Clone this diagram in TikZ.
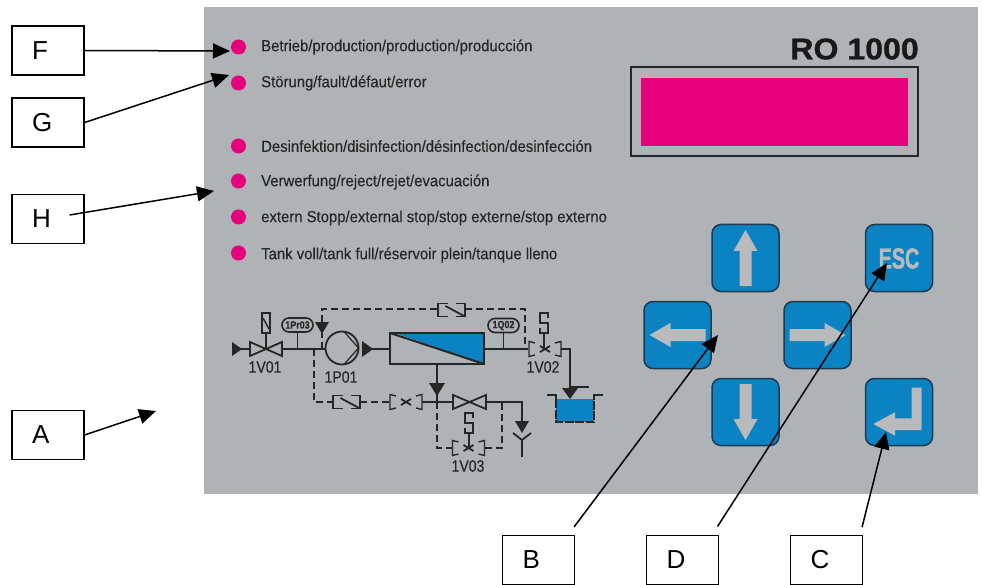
\documentclass[tikz,border=0pt]{standalone}
\usepackage{fontspec}
\setmainfont{Liberation Sans}
\newfontfamily\panelfont[FakeStretch=0.93,FakeBold=0.25]{Liberation Sans}
\newfontfamily\schemefont[FakeStretch=0.85,FakeBold=0.4]{Liberation Sans}
\newfontfamily\escfont[FakeStretch=0.68,BoldFeatures={FakeBold=1.2}]{Liberation Sans}
\newfontfamily\modelfont[FakeStretch=1.07,BoldFeatures={FakeBold=1.0}]{Liberation Sans}
\usetikzlibrary{arrows.meta}
\definecolor{paneltint}{HTML}{B0B3B5}
\definecolor{ledpink}{HTML}{E6007E}
\definecolor{keyblue}{HTML}{0B83C3}
\definecolor{keyedge}{HTML}{1C3A50}
\definecolor{glyphgrey}{HTML}{B8BABC}
\definecolor{inkdark}{HTML}{262626}
\tikzset{
  letterbox/.style={draw,line width=1.2pt,minimum width=72pt,minimum height=49pt,
    text width=32pt,inner xsep=20pt,inner ysep=0pt,align=left,font=\fontsize{26}{26}\selectfont},
  callout/.style={line width=1.5pt,-{Triangle[length=17pt,width=15pt]}},
  led/.style={circle,fill=ledpink,minimum size=15pt,inner sep=0pt},
  ledtext/.style={anchor=west,inner sep=0pt,text=inkdark,font=\panelfont\fontsize{16}{16}\selectfont},
  keybtn/.style={draw=keyedge,fill=keyblue,line width=1.5pt,rounded corners=9pt,minimum size=67pt,inner sep=0pt},
  glyph/.style={fill=glyphgrey},
  sline/.style={draw=inkdark,line width=1.8pt},
  dline/.style={draw=inkdark,line width=1.5pt,dash pattern=on 7pt off 4pt},
  schemetext/.style={inner sep=0pt,text=inkdark,font=\schemefont\fontsize{16.5}{16.5}\selectfont},
  pilltext/.style={inner sep=0pt,text=inkdark,font=\schemefont\bfseries\fontsize{10.5}{10.5}\selectfont},
  pill/.style={draw=inkdark,line width=1.6pt,rounded corners=7pt,minimum width=31pt,minimum height=14pt,inner sep=0pt},
  crossvalve/.pic={
    \draw[sline,line width=1.4pt] (-10,-6)--(-16,-7.5)--(-16,7.5)--(-10,6);
    \draw[sline,line width=1.4pt] (10,-6)--(16,-7.5)--(16,7.5)--(10,6);
    \draw[sline] (-5,-3)--(5,3);
    \draw[sline] (-5,3)--(5,-3);
  },
  checkvalve/.pic={
    \draw[sline,line width=1.4pt] (-4,-6.5)--(-13.5,-6.5)--(-13.5,6.5)--(-4,6.5);
    \draw[sline,line width=1.4pt] (4,-6.5)--(13.5,-6.5)--(13.5,6.5)--(4,6.5);
    \draw[sline] (-6,-4)--(13.5,6.5);
  },
  sactuator/.pic={
    \draw[sline,line width=1.4pt] (4,-5)--(4,-10)--(-4,-10)--(-4,0)--(4,0)--(4,10)--(-4,10)--(-4,5);
  },
}
\begin{document}
\begin{tikzpicture}[x=1pt,y=-1pt]
  \useasboundingbox (0,0) rectangle (982,585);
  \fill[paneltint] (204,7) rectangle (978,494);

  % status lamps
  \node[led] (ledF) at (238.5,47) {};
  \node[led] (ledG) at (238.5,83) {};
  \node[led] (ledD) at (238.5,146) {};
  \node[led] (ledV) at (238.5,181) {};
  \node[led] (ledS) at (238.5,217) {};
  \node[led] (ledT) at (238.5,253) {};
  \node[ledtext] (txtF) at (261,47) {Betrieb/production/production/producción};
  \node[ledtext] (txtG) at (261,83) {Störung/fault/défaut/error};
  \node[ledtext] (txtD) at (261,146) {Desinfektion/disinfection/désinfection/desinfección};
  \node[ledtext] (txtV) at (261,182) {Verwerfung/reject/rejet/evacuación};
  \node[ledtext] (txtS) at (261,218) {extern Stopp/external stop/stop externe/stop externo};
  \node[ledtext] (txtT) at (261,255) {Tank voll/tank full/réservoir plein/tanque lleno};

  % display
  \node[anchor=east,inner sep=0pt,text=black!90,font=\modelfont\bfseries\fontsize{30}{30}\selectfont] (model) at (919,49) {RO 1000};
  \draw[inkdark,line width=1.5pt] (631,67) rectangle (918,156);
  \fill[ledpink] (641,78) rectangle (908,146);

  % keypad
  \node[keybtn] (keyup) at (745.5,258) {};
  \node[keybtn] (keyesc) at (899,258) {};
  \node[keybtn] (keyleft) at (677.5,335) {};
  \node[keybtn] (keyright) at (817.5,335) {};
  \node[keybtn] (keydown) at (745.5,412) {};
  \node[keybtn] (keyenter) at (899,412) {};
  \fill[glyph,shift={(keyup.center)},rotate=90] (-28,-6)--(7,-6)--(7,-12)--(28,0)--(7,12)--(7,6)--(-28,6)--cycle;
  \fill[glyph,shift={(keyleft.center)},rotate=180] (-28,-6)--(7,-6)--(7,-12)--(28,0)--(7,12)--(7,6)--(-28,6)--cycle;
  \fill[glyph,shift={(keyright.center)}] (-28,-6)--(7,-6)--(7,-12)--(28,0)--(7,12)--(7,6)--(-28,6)--cycle;
  \fill[glyph,shift={(keydown.center)},rotate=-90] (-28,-6)--(7,-6)--(7,-12)--(28,0)--(7,12)--(7,6)--(-28,6)--cycle;
  \fill[glyph] (911.7,387.7)--(921.7,387.7)--(921.7,430)--(895,430)--(895,435.7)--(873.3,424)--(895,412.3)--(895,418.3)--(911.7,418.3)--cycle;
  \node[text=glyphgrey,inner sep=0pt,font=\escfont\bfseries\fontsize{29}{29}\selectfont] (esctext) at (899,258.5) {ESC};

  % flow scheme
  \fill[inkdark] (232,342)--(242,349)--(232,356)--cycle;
  \draw[sline] (240,349)--(250,349);
  \draw[sline] (250,342)--(282,356)--(282,342)--(250,356)--cycle;
  \draw[sline,line width=1.4pt] (262,313) rectangle (270,333);
  \draw[sline,line width=1.4pt] (263,318)--(269,329);
  \draw[sline] (266,333)--(266,349);
  \node[schemetext] (v01) at (265,367) {1V01};
  \draw[sline] (282,349)--(326,349);
  \node[pill] (pr03) at (297.5,325) {};
  \node[pilltext] (pr03text) at (297.5,325) {1Pr03};
  \draw[sline] (pr03)--(297.5,349);
  \draw[dline] (314,349)--(314,402)--(333,402);
  \draw[dline] (322,349)--(322,333);
  \fill[inkdark] (315,322)--(329,322)--(322,334)--cycle;
  \draw[dline] (322,322)--(322,309)--(438,309);
  \draw[dline] (465,309)--(525,309)--(525,349);
  \pic at (451.5,310) {checkvalve};
  \draw[sline] (342,348) circle (16.5);
  \draw[sline,line width=1.2pt] (344,331.5)--(358.5,348)--(344,364.5);
  \fill[inkdark] (362,341)--(373,349)--(362,357)--cycle;
  \draw[sline] (370,349)--(390,349);
  \fill[keyblue] (395,333)--(484,333)--(484,364)--cycle;
  \draw[sline,line width=2pt] (390,333) rectangle (484,364);
  \draw[sline,line width=2pt] (390,333)--(484,364);
  \node[schemetext] (p01) at (341,377) {1P01};
  \draw[sline] (484,349)--(528,349);
  \node[pill] (q02) at (503.5,325.5) {};
  \node[pilltext] (q02text) at (503.5,325.5) {1Q02};
  \draw[sline] (q02)--(503.5,349);
  \pic at (545,349) {crossvalve};
  \pic at (544,323) {sactuator};
  \draw[sline] (544,333)--(544,349);
  \node[schemetext] (v02) at (543,367) {1V02};
  \draw[sline] (561,349)--(570,349)--(570,388);
  \fill[inkdark] (562,388)--(578,388)--(570,399)--cycle;
  \draw[sline] (570,387)--(589,387);
  \fill[keyblue] (556,399) rectangle (594,422);
  \draw[sline,line width=1.4pt,dash pattern=on 9pt off 1.5pt] (556,399)--(556,422)--(594,422)--(594,399);
  \draw[sline] (547,395)--(557,395);
  \draw[sline] (593,395)--(603,395);
  \draw[sline] (556,395)--(556,400);
  \draw[sline] (594,395)--(594,400);
  % reject branch
  \draw[sline] (437,364)--(437,402);
  \fill[inkdark] (429,383)--(445,383)--(437,396)--cycle;
  \pic at (346.5,402) {checkvalve};
  \draw[dline] (360,402)--(389,402);
  \pic at (406,402) {crossvalve};
  \draw[sline] (422,402)--(453,402);
  \draw[sline] (453,395)--(486,409)--(486,395)--(453,409)--cycle;
  \draw[sline] (486,402)--(522,402)--(522,424);
  \fill[inkdark] (515,421)--(529,421)--(522,433)--cycle;
  \draw[sline] (513,433)--(522,440)--(531,433);
  \draw[sline] (522,440)--(522,457);
  \draw[dline] (437,402)--(437,448)--(452,448);
  \pic at (468.5,448) {crossvalve};
  \pic at (469,423) {sactuator};
  \draw[sline] (469,433)--(469,448);
  \draw[dline] (485,448)--(502,448)--(502,402);
  \node[schemetext] (v03) at (468,466) {1V03};

  % letter boxes with their arrows
  \node[letterbox] (F) at (48,50.5) {F};
  \node[letterbox] (G) at (48,122.5) {G};
  \node[letterbox] (H) at (48,219) {H};
  \node[letterbox] (A) at (48,435) {A};
  \node[letterbox] (B) at (538.5,560) {B};
  \node[letterbox] (D) at (682.5,560) {D};
  \node[letterbox] (C) at (826.5,560) {C};
  \coordinate (tipF) at (230,51);
  \coordinate (tipG) at (229,75);
  \coordinate (tipH) at (214,191);
  \coordinate (tipA) at (156,411);
  \coordinate (tipB) at (718,335);
  \coordinate (tipD) at (887,263);
  \coordinate (tipC) at (886,432);
  \draw[callout] (F.east)--(tipF);
  \draw[callout] (G.east)--(tipG);
  \draw[callout] ([shift={(-15,-4)}]H.east)--(tipH);
  \draw[callout] (A.east)--(tipA);
  \draw[callout,shorten <=10pt] ([xshift=-7pt]B.north east)--(tipB);
  \draw[callout,shorten <=10pt] ([xshift=-7pt]D.north east)--(tipD);
  \draw[callout,shorten <=8pt] ([xshift=-3pt]C.north east)--(tipC);
\end{tikzpicture}
\end{document}
